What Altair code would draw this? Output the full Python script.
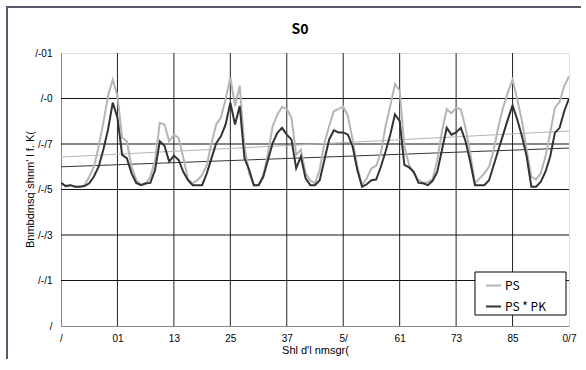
import altair as alt
import pandas as pd

months = list(range(109))

ps = [0.0629, 0.0615, 0.0619, 0.0612, 0.0612, 0.0619, 0.0656, 0.0700, 0.0789, 0.0893,
      0.1012, 0.1083, 0.1012, 0.0827, 0.0812, 0.0700, 0.0641, 0.0622, 0.0622, 0.0656,
      0.0730, 0.0893, 0.0886, 0.0812, 0.0841, 0.0827, 0.0740, 0.0645, 0.0627, 0.0641,
      0.0663, 0.0708, 0.0804, 0.0886, 0.0916, 0.0997, 0.1093, 0.0967, 0.1056, 0.0789,
      0.0671, 0.0619, 0.0619, 0.0663, 0.0760, 0.0878, 0.0930, 0.0963, 0.0953, 0.0916,
      0.0752, 0.0775, 0.0671, 0.0640, 0.0627, 0.0686, 0.0804, 0.0878, 0.0944, 0.0954,
      0.0964, 0.0923, 0.0819, 0.0700, 0.0619, 0.0649, 0.0693, 0.0704, 0.0760, 0.0878,
      0.0967, 0.1064, 0.1034, 0.0789, 0.0708, 0.0671, 0.0641, 0.0630, 0.0632, 0.0645,
      0.0730, 0.0856, 0.0953, 0.0935, 0.0960, 0.0953, 0.0871, 0.0760, 0.0627, 0.0649,
      0.0671, 0.0700, 0.0775, 0.0878, 0.0960, 0.1027, 0.1083, 0.0997, 0.0901, 0.0775,
      0.0656, 0.0644, 0.0671, 0.0745, 0.0849, 0.0960, 0.0986, 0.1056, 0.1098]

pspk = [0.0629, 0.0615, 0.0619, 0.0612, 0.0612, 0.0615, 0.0627, 0.0657, 0.0700, 0.0775,
        0.0864, 0.0982, 0.0916, 0.0752, 0.0738, 0.0671, 0.0629, 0.0619, 0.0627, 0.0629,
        0.0686, 0.0812, 0.0792, 0.0723, 0.0749, 0.0730, 0.0678, 0.0641, 0.0619, 0.0619,
        0.0619, 0.0671, 0.0738, 0.0804, 0.0834, 0.0886, 0.0982, 0.0886, 0.0967, 0.0738,
        0.0686, 0.0619, 0.0619, 0.0656, 0.0730, 0.0804, 0.0849, 0.0871, 0.0841, 0.0819,
        0.0693, 0.0745, 0.0649, 0.0619, 0.0619, 0.0641, 0.0730, 0.0819, 0.0860, 0.0851,
        0.0851, 0.0841, 0.0789, 0.0686, 0.0612, 0.0623, 0.0641, 0.0644, 0.0700, 0.0767,
        0.0841, 0.0930, 0.0901, 0.0708, 0.0697, 0.0678, 0.0629, 0.0627, 0.0619, 0.0638,
        0.0678, 0.0775, 0.0871, 0.0841, 0.0851, 0.0871, 0.0812, 0.0723, 0.0619, 0.0619,
        0.0619, 0.0641, 0.0708, 0.0775, 0.0841, 0.0908, 0.0970, 0.0908, 0.0834, 0.0745,
        0.0612, 0.0612, 0.0634, 0.0678, 0.0745, 0.0849, 0.0871, 0.0945, 0.1000]

series_names = ["PS", "PS * PK"]
series_colors = ["#b5b5b5", "#333333"]

x_tick_values = [0, 12, 24, 36, 48, 60, 72, 84, 96, 108]
x_tick_labels = ["/", "01", "13", "25", "37", "5/", "61", "73", "85", "0/7"]
y_tick_values = [0, 0.02, 0.04, 0.06, 0.08, 0.10, 0.12]
y_tick_labels = ["/", "/-/1", "/-/3", "/-/5", "/-/7", "/-0", "/-01"]

title_text = "S0"
x_title = "Shl d'l nmsgr("
y_title = "Bnmbdmsq`shnm' l f. K("

FONT = "Noto Sans CJK JP"

df = pd.DataFrame({
    "month": months + months,
    "value": ps + pspk,
    "series": [series_names[0]] * len(months) + [series_names[1]] * len(months),
})


def label_expr(labels, step):
    arr = "[" + ",".join("'" + s + "'" for s in labels) + "]"
    return f"{arr}[round(datum.value / {step})]"


x_scale = alt.Scale(domain=[0, 108], nice=False, zero=False)
y_scale = alt.Scale(domain=[0, 0.12], nice=False)

x_enc = alt.X(
    "month:Q", scale=x_scale,
    axis=alt.Axis(values=x_tick_values, labelExpr=label_expr(x_tick_labels, 12),
                  title=x_title, ticks=False, labelPadding=7, titlePadding=1,
                  labelFlush=False, titleFontWeight="normal", grid=False),
)
y_enc = alt.Y(
    "value:Q", scale=y_scale,
    axis=alt.Axis(values=y_tick_values, labelExpr=label_expr(y_tick_labels, 0.02),
                  title=y_title, ticks=False, labelPadding=9, grid=False,
                  titleFontWeight="normal", titleX=-31, titleY=136,
                  titleAlign="center", titleBaseline="middle", titleAngle=270),
)
color_enc = alt.Color(
    "series:N",
    scale=alt.Scale(domain=series_names, range=series_colors),
    legend=alt.Legend(title=None, orient="none", legendX=424, legendY=224,
                      padding=0, symbolType="stroke", symbolStrokeWidth=2,
                      symbolSize=225, labelFontSize=12, labelFont=FONT,
                      rowPadding=6, labelOffset=3, labelColor="black"),
)

vgrid = alt.Chart(pd.DataFrame({"month": x_tick_values[1:-1]})).mark_rule(
    color="#222222", strokeWidth=1
).encode(x=alt.X("month:Q", scale=x_scale))

hgrid = alt.Chart(pd.DataFrame({"value": y_tick_values[1:-1]})).mark_rule(
    color="#111111", strokeWidth=1
).encode(y=alt.Y("value:Q", scale=y_scale))

base = alt.Chart(df)

trend = base.transform_regression(
    "month", "value", groupby=["series"], extent=[0, 108]
).mark_line(strokeWidth=1, clip=True).encode(x=x_enc, y=y_enc, color=color_enc)

lines = base.mark_line(strokeWidth=2, clip=True).encode(
    x=x_enc, y=y_enc, color=color_enc,
    order=alt.Order("month:Q"),
)

one = pd.DataFrame({"f": [0]})

legend_box = alt.Chart(one).mark_rect(
    fill="white", stroke="black", strokeWidth=1
).encode(x=alt.value(414), x2=alt.value(505), y=alt.value(219), y2=alt.value(262))

frame_left = alt.Chart(one).mark_rule(color="#565a6c", strokeWidth=2).encode(
    x=alt.value(-54), y=alt.value(-47), y2=alt.value(306))
frame_top = alt.Chart(one).mark_rule(color="#565a6c", strokeWidth=2).encode(
    x=alt.value(-55), x2=alt.value(520), y=alt.value(-46))

title = alt.Chart(one).mark_text(
    text=title_text, font=FONT, fontSize=14, fontWeight="bold", color="black",
    align="center", baseline="middle"
).encode(x=alt.value(239), y=alt.value(-23))

chart = alt.layer(vgrid, hgrid, trend, lines, legend_box, frame_left, frame_top,
                  title).properties(
    width=508,
    height=273,
    padding={"left": 61, "top": 53, "right": 12, "bottom": 33},
    autosize=alt.AutoSizeParams(type="none"),
).configure_view(
    stroke="#808080", strokeWidth=1
).configure_axis(
    labelFont=FONT, titleFont=FONT, labelFontSize=11, titleFontSize=11,
    titleFontWeight="normal", labelColor="black", titleColor="black",
    domainColor="black", domainWidth=1,
).configure(background="white")

chart.save("out.html", embed_options={"renderer": "svg", "actions": False})
